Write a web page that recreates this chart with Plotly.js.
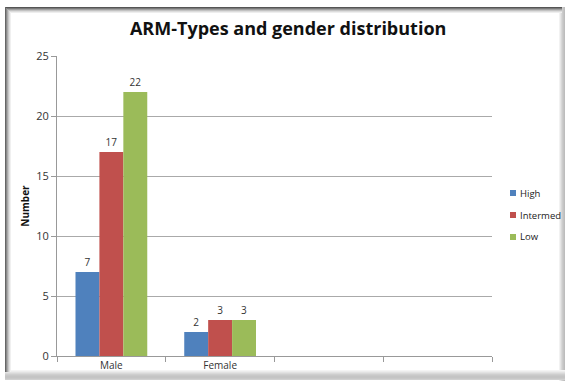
<!DOCTYPE html>
<html>
<head>
<meta charset="utf-8">
<script src="https://cdn.plot.ly/plotly-3.0.1.min.js"></script>
<style>html,body{margin:0;padding:0;background:#fff;}#chart{width:565px;height:381px;}</style>
</head>
<body>
<div id="chart"></div>
<script>
const categories = ["Male", "Female", " ", "  "];
const seriesNames = ["High", "Intermed", "Low"];
const highValues = [7, 2, null, null];
const intermedValues = [17, 3, null, null];
const lowValues = [22, 3, null, null];
const yTickVals = [0, 5, 10, 15, 20, 25];

const colors = ["#4F81BD", "#C0504D", "#9BBB59"];
const allValues = [highValues, intermedValues, lowValues];

const traces = allValues.map((vals, i) => ({
  type: "bar",
  name: seriesNames[i],
  x: categories,
  y: vals,
  marker: {color: colors[i]},
  text: vals.map(v => v === null ? "" : String(v)),
  textposition: "outside",
  cliponaxis: false,
  textfont: {family: "Open Sans, sans-serif", size: 10, color: "#333"},
  showlegend: false
}));

const px0 = 57, px1 = 492, py0 = 356, py1 = 56;
const fx = x => (x - px0) / (px1 - px0);
const fy = y => (py0 - y) / (py0 - py1);

// legend drawn as shapes + annotations (layout decoration)
const legendY = [193, 215, 237];
const legendShapes = seriesNames.map((n, i) => ({
  type: "rect", xref: "paper", yref: "paper",
  x0: fx(510), x1: fx(516), y0: fy(legendY[i] + 3), y1: fy(legendY[i] - 3),
  fillcolor: colors[i], line: {width: 0}
}));
const legendAnnotations = seriesNames.map((n, i) => ({
  xref: "paper", yref: "paper", x: fx(518), y: fy(legendY[i]),
  xanchor: "left", yanchor: "middle", showarrow: false,
  text: n, font: {family: "Open Sans, sans-serif", size: 9.5, color: "#222"}
}));

// shadowed frame around the chart
const frameShapes = [];
const hLine = (y, x0, x1, c) => frameShapes.push({type: "line", xref: "paper", yref: "paper",
  x0: fx(x0), x1: fx(x1), y0: fy(y), y1: fy(y), line: {color: c, width: 1}, layer: "below"});
const vLine = (x, y0, y1, c) => frameShapes.push({type: "line", xref: "paper", yref: "paper",
  x0: fx(x), x1: fx(x), y0: fy(y0), y1: fy(y1), line: {color: c, width: 1}, layer: "below"});
["#f2f2f2", "#e6e6e6", "#d8d8d8", "#cccccc", "#c4c4c4", "#bdbdbd"].forEach((c, k) => vLine(559.5 + k, 7, 381, c));
["#f4f4f4", "#ececec", "#e2e2e2", "#d8d8d8", "#cecece", "#c8c8c8", "#c4c4c4", "#c4c4c4", "#c8c8c8", "#d0d0d0"].forEach((c, k) => hLine(370.5 + k, 5, 565, c));
["#555555", "#7a7a7a", "#a0a0a0", "#c2c2c2", "#dcdcdc", "#eeeeee"].forEach((c, k) => hLine(7.5 + k, 5 + k, 562, c));
["#666666", "#8a8a8a", "#aaaaaa", "#c8c8c8", "#e0e0e0", "#f0f0f0"].forEach((c, k) => vLine(5.5 + k, 7 + k, 372, c));

const layout = {
  width: 565,
  height: 381,
  margin: {l: 57, r: 73, t: 56, b: 25, autoexpand: false},
  paper_bgcolor: "#ffffff",
  plot_bgcolor: "#ffffff",
  font: {family: "Open Sans, sans-serif", color: "#333"},
  title: {
    text: "<b>ARM-Types and gender distribution</b>",
    font: {family: "Open Sans, sans-serif", size: 18, color: "#111"},
    x: 0.51, xanchor: "center",
    y: 0.925, yanchor: "middle"
  },
  barmode: "group",
  bargap: 0.34,
  bargroupgap: 0,
  showlegend: false,
  xaxis: {
    type: "category",
    categoryorder: "array",
    categoryarray: categories,
    tickson: "boundaries",
    ticks: "outside",
    ticklen: 5,
    tickcolor: "#999",
    showline: true,
    linecolor: "#999",
    linewidth: 1,
    showgrid: false,
    tickfont: {size: 10, color: "#333"},
    fixedrange: true
  },
  yaxis: {
    range: [0, 25],
    tickvals: yTickVals,
    ticks: "outside",
    ticklen: 5,
    tickcolor: "#999",
    showline: true,
    linecolor: "#999",
    linewidth: 1,
    showgrid: true,
    gridcolor: "#aaa",
    gridwidth: 1,
    zeroline: false,
    tickfont: {size: 11, color: "#333"},
    title: {text: "<b>Number</b>", font: {size: 10, color: "#111"}, standoff: 4}
  },
  annotations: legendAnnotations,
  shapes: frameShapes.concat(legendShapes)
};

Plotly.newPlot("chart", traces, layout, {displayModeBar: false, staticPlot: true});
</script>
</body>
</html>
